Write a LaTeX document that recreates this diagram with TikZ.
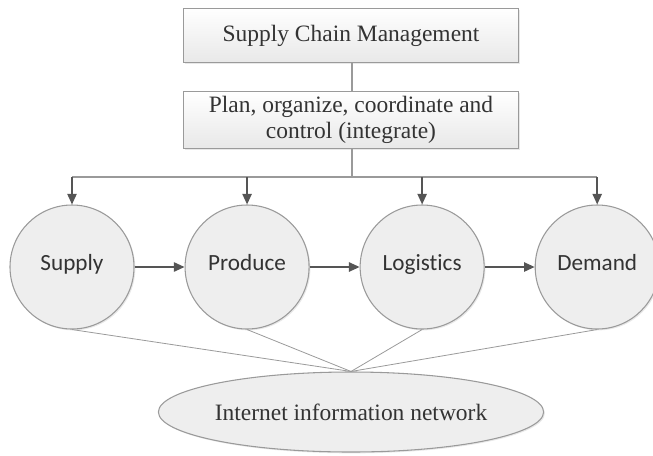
\documentclass[tikz,border=0pt]{standalone}
\usepackage{fontspec}
\setmainfont{Liberation Serif}
\newfontfamily\stagefont[Ligatures=NoCommon]{Carlito}
\usetikzlibrary{arrows.meta, positioning, shapes.geometric, shadows}

\definecolor{edgegray}{HTML}{9A9A9A}
\definecolor{stagefill}{HTML}{EEEEEE}
\definecolor{arrowgray}{HTML}{555555}
\definecolor{textgray}{HTML}{333333}

\tikzset{
  softshadow/.style={drop shadow={opacity=0.18, shadow xshift=1pt, shadow yshift=-1pt}},
  topbox/.style={draw=edgegray, line width=0.8pt, top color=white, bottom color=black!9,
    minimum width=251pt, minimum height=41pt, text=textgray, align=center,
    font=\fontsize{17.6}{20}\selectfont, softshadow},
  stage/.style={circle, draw=edgegray, line width=0.8pt, fill=stagefill, minimum size=93pt,
    inner sep=0pt, text height=1.6ex, text depth=.4ex, text=textgray,
    font=\stagefont\fontsize{17.4}{20}\selectfont, softshadow},
  netnode/.style={ellipse, draw=edgegray, line width=0.8pt, fill=stagefill, minimum width=253pt,
    minimum height=60pt, inner sep=0pt, text=textgray, font=\fontsize{17.6}{20}\selectfont, softshadow},
  flow/.style={draw=arrowgray, line width=1.2pt, -{Triangle[length=8pt,width=7pt]}},
  link/.style={draw=edgegray, line width=0.9pt},
  thin link/.style={draw=edgegray, line width=0.6pt},
}

\begin{document}
\begin{tikzpicture}[x=0.75pt, y=-0.75pt, node distance=37.5pt]
  \useasboundingbox (0,0) rectangle (653,455);

  \node[topbox] (scm) at (351,35.5) {Supply Chain Management};
  \node[topbox] (plan) at (351,120) {Plan, organize, coordinate and\\control (integrate)};

  \node[stage] (supply) at (72,267) {Supply};
  \node[stage, right=of supply] (produce) {Produce};
  \node[stage, right=of produce] (logistics) {Logistics};
  \node[stage, right=of logistics] (demand) {Demand};

  \node[netnode] (net) at (351,412) {Internet information network};

  \coordinate (bus) at (352,177);

  \draw[link] (scm.south -| bus) -- (plan.north -| bus);
  \draw[link] (plan.south -| bus) -- (bus);
  \draw[link] (supply.north |- bus) -- (demand.north |- bus);

  \foreach \n in {supply, produce, logistics, demand}
    \draw[flow] (\n.north |- bus) -- (\n.north);

  \draw[flow] (supply) -- (produce);
  \draw[flow] (produce) -- (logistics);
  \draw[flow] (logistics) -- (demand);

  \foreach \n in {supply, produce, logistics, demand}
    \draw[thin link] (\n.south) -- (net.north);
\end{tikzpicture}
\end{document}
